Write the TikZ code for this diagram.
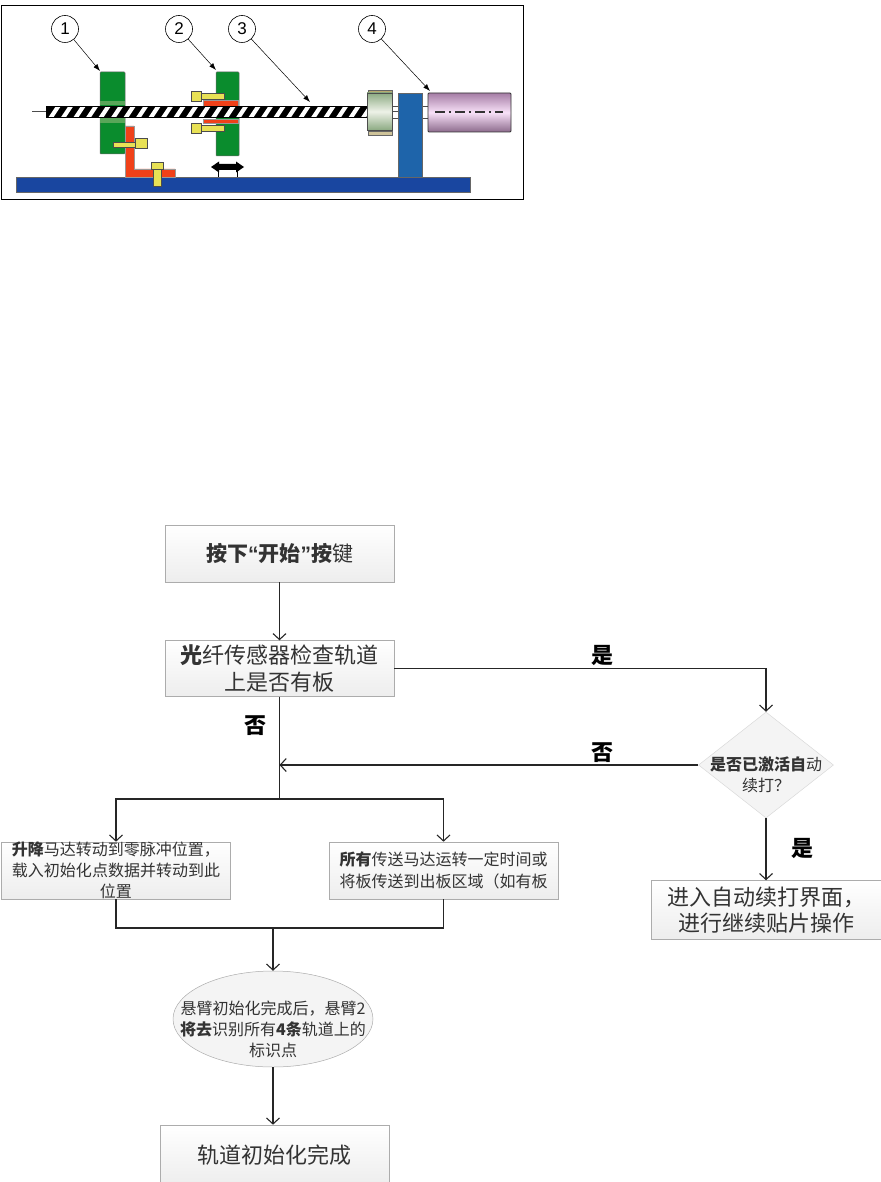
\documentclass[tikz,border=0pt]{standalone}
\usepackage{fontspec}
\setmainfont{Noto Sans CJK SC}
\newfontfamily\latinfont{Liberation Sans}
\usetikzlibrary{shapes.geometric, arrows.meta, positioning}
\definecolor{plategreen}{RGB}{10,140,45}
\definecolor{baseblue}{RGB}{25,70,160}
\definecolor{standblue}{RGB}{30,100,170}
\definecolor{bracketred}{RGB}{240,65,25}
\definecolor{boltyellow}{RGB}{232,225,85}
\definecolor{motordark}{RGB}{165,125,165}
\definecolor{motorlight}{RGB}{248,225,248}
\definecolor{couplegreen}{RGB}{140,170,130}
\definecolor{couplelight}{RGB}{238,242,232}
\definecolor{coupletan}{RGB}{185,170,110}

\begin{document}
\begin{tikzpicture}[x=1pt, y=-1pt]
    % Node styles for clarity
    \tikzstyle{flowbox} = [rectangle, draw=gray!65, line width=0.6pt, top color=white, bottom color=gray!14, inner sep=0pt, minimum width=229pt, align=center, text=black!80]
    \tikzstyle{bigtext} = [font=\fontsize{22}{27}\selectfont]
    \tikzstyle{smalltext} = [font=\fontsize{16}{21}\selectfont]
    \tikzstyle{decision} = [diamond, draw=gray!30, fill=gray!9, line width=0.5pt, inner sep=0pt, minimum width=135pt, minimum height=106pt]
    \tikzstyle{bubble} = [ellipse, draw=gray!65, fill=gray!9, line width=0.5pt, inner sep=0pt, minimum width=200pt, minimum height=96pt]
    \tikzstyle{flowarrow} = [-{Straight Barb[length=6pt,width=13pt]}, line width=1.1pt, black!85]
    \tikzstyle{flowline} = [line width=1.1pt, black!85]
    \tikzstyle{answer} = [font=\fontsize{22}{22}\selectfont\bfseries, inner sep=2pt, black]
    \tikzstyle{callout} = [circle, draw, line width=0.6pt, fill=white, minimum size=27pt, inner sep=0pt, font=\latinfont\fontsize{17}{17}\selectfont]
    \tikzstyle{pointer} = [-{Latex[length=7pt,width=5pt]}, line width=0.5pt]
    \tikzstyle{plate} = [draw=black!60, line width=0.5pt, fill=plategreen, rounded corners=0.8pt]
    \tikzstyle{bracket} = [draw=black!40, line width=0.3pt, fill=bracketred]
    \tikzstyle{bolt} = [draw=black!70, line width=0.5pt, fill=boltyellow]

    \useasboundingbox (0,0) rectangle (880,1182);

    % Lead screw drawing
    \draw[line width=0.8pt] (1,5) rectangle (523,199);
    \fill[baseblue] (16,177) rectangle (470,192);
    \draw[black!60, line width=0.5pt] (16,177) rectangle (470,192);
    \draw[plate] (100,72) rectangle (125,154);
    \fill[gray!70!green] (100,101) rectangle (125,105);
    \fill[gray!70!green] (100,118) rectangle (125,123);
    \draw[plate] (216,72) rectangle (239,156);

    % Brackets
    \draw[bracket] (125,126) -- (134,126) -- (134,169) -- (175,169) -- (175,177) -- (125,177) -- cycle;
    \draw[bracket] (203,100) rectangle (238,106);
    \draw[bracket] (203,119) rectangle (238,123);

    % Bolts
    \draw[bolt] (113,142) rectangle (135,147);
    \draw[bolt] (135,138) rectangle (147,148);
    \draw[bolt] (151,162) rectangle (163,169);
    \draw[bolt] (153,169) rectangle (161,186);
    \foreach \y in {91,123} {
        \draw[bolt] (191,\y) rectangle (201,\y+10);
        \draw[bolt] (201,\y+2) rectangle (224,\y+8);
    }

    % Screw with slanted stripes
    \draw[line width=0.6pt, black!70] (32,111.5) -- (46,111.5);
    \fill[black] (46,106) rectangle (368,118);
    \begin{scope}
        \clip (46,107.5) rectangle (368,116.5);
        \foreach \x in {48,60.5,...,370} {
            \fill[white] (\x,118) -- (\x+5,118) -- (\x+13,106) -- (\x+8,106) -- cycle;
        }
    \end{scope}

    % Coupling, stand and motor
    \draw[black!60, line width=0.5pt, fill=coupletan] (368,90) rectangle (392,93);
    \draw[black!60, line width=0.5pt, fill=coupletan!70] (368,131) rectangle (392,135);
    \draw[black!70, line width=0.5pt, top color=couplegreen, bottom color=couplegreen, middle color=couplelight] (367,93) rectangle (392,130);
    \draw[black!70, line width=0.5pt] (392,106) -- (398,106) (392,111) -- (398,111) (392,118) -- (398,118);
    \draw[black!70, line width=0.5pt] (422,106) -- (428,106) (422,118) -- (428,118);
    \draw[black!60, line width=0.5pt, fill=standblue] (398,93) rectangle (422,177);
    \draw[black!80, line width=0.8pt, rounded corners=1pt, top color=motordark, bottom color=motordark!85!black, middle color=motorlight] (428,93) rectangle (511,132);
    \draw[black!80, line width=1.2pt, dash pattern=on 10pt off 4pt on 2pt off 4pt] (435,112) -- (503,112);

    % Travel arrow
    \draw[line width=1pt] (218,168) -- (218,177) (237,168) -- (237,177);
    \fill[black] (211,167) -- (219,161.5) -- (219,164) -- (236,164) -- (236,161.5) -- (244,167) -- (236,172.5) -- (236,170) -- (219,170) -- (219,172.5) -- cycle;

    % Numbered callouts
    \coordinate (tipone) at (100,71);
    \coordinate (tiptwo) at (216,70);
    \coordinate (tipthree) at (310,102);
    \coordinate (tipfour) at (430,91);
    \node (one) [callout] at (65,29) {1};
    \node (two) [callout] at (179,29) {2};
    \node (three) [callout] at (242,29) {3};
    \node (four) [callout] at (372,29) {4};
    \draw[pointer] (one) -- (tipone);
    \draw[pointer] (two) -- (tiptwo);
    \draw[pointer] (three) -- (tipthree);
    \draw[pointer] (four) -- (tipfour);

    % Nodes
    \node (start) [flowbox, font=\fontsize{21}{27}\selectfont, minimum height=57pt] at (279.5,553.5) {\textbf{按下{\latinfont “}开始{\latinfont ”}按}键};
    \node (sensor) [flowbox, bigtext, minimum height=56pt, below=58pt of start] {\textbf{光}纤传感器检查轨道\\上是否有板};
    \node (check) [decision, label={[smalltext, align=center, text=black!80, yshift=-10pt, name=checktext]center:\textbf{是否已激活自}动\\续打？}] at (766,765) {};
    \node (resume) [flowbox, font=\fontsize{22}{26}\selectfont, minimum width=230pt, minimum height=59pt, below=62pt of check.south, anchor=north] {进入自动续打界面，\\进行继续贴片操作};
    \node (lift) [flowbox, smalltext, minimum height=57pt] at (116,870.5) {\textbf{升降}马达转动到零脉冲位置，\\载入初始化点数据并转动到此\\位置};
    \node (convey) [flowbox, font=\fontsize{16}{22}\selectfont, minimum height=57pt] at (443.5,870.5) {\textbf{所有}传送马达运转一定时间或\\将板传送到出板区域（如有板};
    \node (scan) [bubble, label={[smalltext, align=center, text=black!80, yshift=-10pt, name=scantext]center:悬臂初始化完成后，悬臂2\\\textbf{将去}识别所有\textbf{4条}轨道上的\\标识点}] at (273,1019) {};
    \node (done) [flowbox, bigtext, minimum height=60pt] at (274.5,1155) {轨道初始化完成};
    \coordinate (split) at (279.5,799);
    \coordinate (merge) at (273,928);

    % Arrows
    \draw[flowarrow] (start) -- (sensor);
    \path[flowarrow, draw] (sensor.east) -| node[pos=0.28, above, answer] (yesone) {是} (check.north);
    \path[flowarrow, draw] (check.west) -- node[pos=0.228, above, answer] (noone) {否} (sensor.south |- check.west);
    \path[flowline, draw] (sensor.south) -- node[pos=0.28, left=10pt, answer] (notwo) {否} (split);
    \path[flowarrow, draw] (check.south) -- node[pos=0.48, right=23pt, answer] (yestwo) {是} (resume.north);
    \draw[flowarrow] (split) -| (lift.north);
    \draw[flowarrow] (split) -| (convey.north);
    \draw[flowline] (lift.south) |- (merge);
    \draw[flowline] (convey.south) |- (merge);
    \draw[flowarrow] (merge) -- (scan.north);
    \draw[flowarrow] (scan.south) -- (scan.south |- done.north);
\end{tikzpicture}
\end{document}
